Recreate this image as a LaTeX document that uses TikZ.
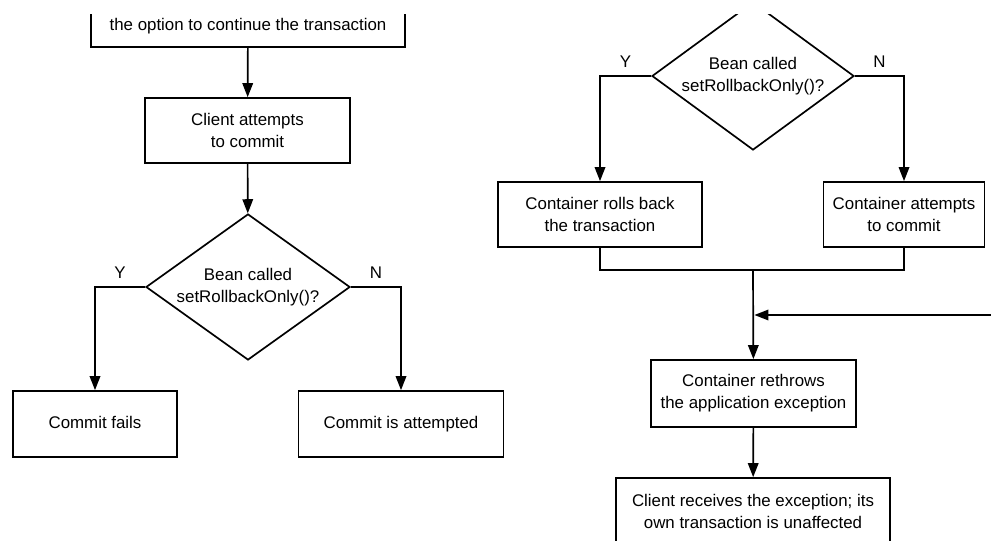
\documentclass[tikz,border=0pt]{standalone}
\usepackage{fontspec}
\setmainfont{Liberation Sans}
\usepackage{tikz}
\usetikzlibrary{positioning,arrows.meta,shapes.geometric,calc}

\begin{document}
\begin{tikzpicture}[x=0.025cm,y=-0.025cm,
  box/.style={rectangle,draw=black,line width=1.2pt,inner sep=0pt,align=center,
    font=\fontsize{12}{15.5}\selectfont},
  test/.style={diamond,draw=black,line width=1.2pt,inner sep=0pt,align=center,
    aspect=1.38,font=\fontsize{12}{15.5}\selectfont},
  flow/.style={-{Triangle[length=10pt,width=7.5pt]},line width=1.2pt},
  link/.style={-,line width=1.2pt},
  yn/.style={above=2pt,font=\fontsize{12}{14}\selectfont}]
\path[fill=white] (0,0) rectangle (991,540);
\clip (0,14) rectangle (991,540);

% Client side (left column)
\node[box,minimum width=7.85cm,minimum height=1.675cm] (prev) at (248,13.5)
  {\strut\\the option to continue the transaction};
\node[box,minimum width=5.125cm,minimum height=1.625cm] (cltry) at (247.5,130.5)
  {Client attempts\\to commit};
\node[test,minimum width=5.1cm,minimum height=3.65cm] (bean1) at (248,287)
  {Bean called\\setRollbackOnly()?};
\node[box,minimum width=4.1cm,minimum height=1.65cm] (fail) at (95,424)
  {\strut Commit fails};
\node[box,minimum width=5.125cm,minimum height=1.65cm] (tried) at (401,424)
  {\strut Commit is attempted};

\draw[flow] (prev) -- (cltry);
\draw[flow] (cltry) -- (bean1);
\draw[flow] (bean1.west) -| node[yn,pos=0.25] {Y} (fail.north);
\draw[flow] (bean1.east) -| node[yn,pos=0.25] {N} (tried.north);

% Container side (right column)
\node[test,minimum width=5.05cm,minimum height=3.7cm] (bean2) at (753,76)
  {Bean called\\setRollbackOnly()?};
\node[box,minimum width=5.1cm,minimum height=1.625cm] (rollb) at (600,214.5)
  {Container rolls back\\the transaction};
\node[box,minimum width=4.025cm,minimum height=1.625cm] (cotry) at (904,214.5)
  {Container attempts\\to commit};
\node[box,minimum width=5.125cm,minimum height=1.675cm] (rethr) at (753.5,393.5)
  {Container rethrows\\the application exception};
\node[box,minimum width=6.85cm,minimum height=1.675cm] (recv) at (753,511.5)
  {Client receives the exception; its\\own transaction is unaffected};

\draw[flow] (bean2.west) -| node[yn,pos=0.25] {Y} (rollb.north);
\draw[flow] (bean2.east) -| node[yn,pos=0.25] {N} (cotry.north);

% both branches join before the rethrow
\coordinate (join) at (753,270);
\coordinate (side) at (991,315);
\draw[link] (rollb.south) |- (join);
\draw[link] (cotry.south) |- (join);
\draw[flow] (join) -- (rethr);
\draw[flow,shorten >=1pt] (side) -- (join |- side);
\draw[flow] (rethr) -- (recv);
\end{tikzpicture}
\end{document}
